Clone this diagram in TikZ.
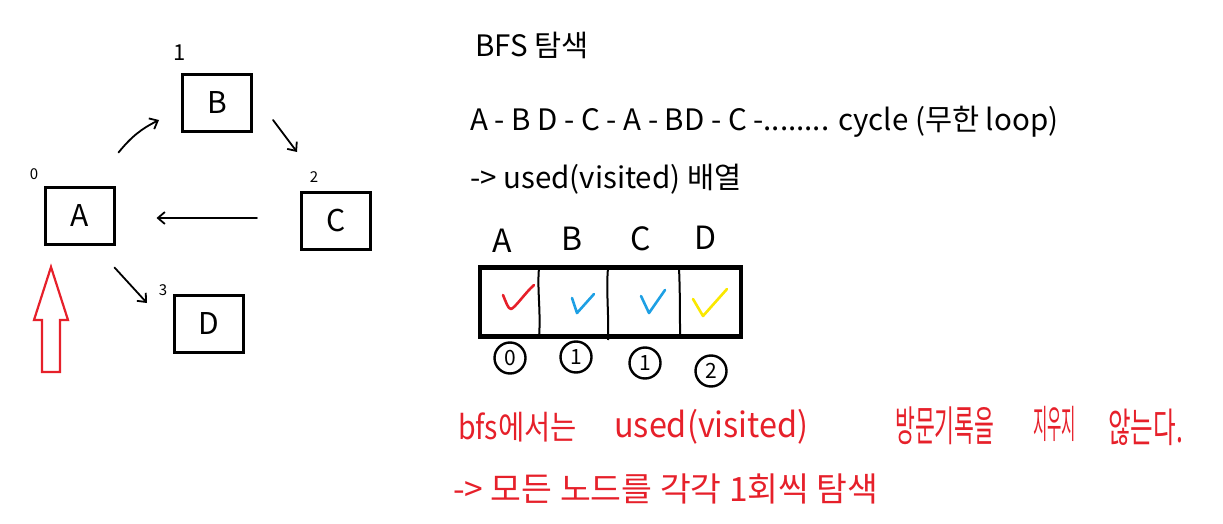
\documentclass[tikz,border=0pt]{standalone}
\usepackage{fontspec}
\setmainfont{Noto Sans CJK KR}
\usetikzlibrary{arrows.meta}
\definecolor{pred}{RGB}{230,32,42}
\definecolor{pblue}{RGB}{30,160,228}
\definecolor{pyellow}{RGB}{250,232,0}
\newcommand{\fs}[1]{\fontsize{#1}{#1}\selectfont}
\tikzset{
  gbox/.style={draw, line width=3, minimum width=69, minimum height=57, inner sep=0, outer sep=0, font=\fs{30}},
  idx/.style={inner sep=0, font=\fs{15}},
  harrow/.style={line width=1.8, -{Straight Barb[length=7pt, width=12pt]}, line cap=round},
  txt/.style={anchor=west, inner sep=0, font=\fs{29.5}},
  rtxt/.style={anchor=west, inner sep=0, text=pred, font=\fs{30}},
  colhead/.style={inner sep=0, font=\fs{32}},
  cnum/.style={draw, circle, line width=2.4, minimum size=31, inner sep=0, font=\fs{21}},
  check/.style={line width=2.6, line cap=round, line join=round}
}
\begin{document}
\begin{tikzpicture}[x=1pt, y=-1pt]
\useasboundingbox (0,0) rectangle (1223,524);
% graph nodes
\node[gbox] (A) at (79.5,215.5) {A};
\node[gbox] (B) at (217,103) {B};
\node[gbox] (C) at (336,220.5) {C};
\node[gbox] (D) at (208.5,324) {D};
% index labels
\node[idx] (l0) at (34,174) {0};
\node[idx, font=\fs{22}] (l1) at (180,53) {1};
\node[idx] (l2) at (314,177) {2};
\node[idx] (l3) at (163,290) {3};
% connectors
\draw[harrow] ([shift={(4.5,-34.5)}]A.north east) to[bend left=12] ([shift={(-23.5,-11.5)}]B.south west);
\draw[harrow] ([shift={(21.5,-11.5)}]B.south east) -- ([shift={(-4.5,-40)}]C.north west);
\draw[harrow] ([shift={(-44.5,-2.5)}]C.west) -- ([shift={(42.5,2.5)}]A.east);
\draw[harrow] ([shift={(0.5,23.5)}]A.south east) -- ([shift={(-27,7.5)}]D.north west);
% red hollow arrow
\draw[pred, line width=2.2, line join=miter] (51,267) -- (68,320) -- (60,320) -- (60,372) -- (42,372) -- (42,320) -- (34,320) -- cycle;
% text
\node[txt] (t1) at (475,45) {BFS 탐색};
\node[txt] (t2) at (470,122) {A - B D - C - A - BD - C -........ cycle (무한 loop)};
\node[txt] (t3) at (470,179) {-> used(visited) 배열};
% array
\node[draw, line width=4.5, minimum width=261, minimum height=69, inner sep=0] (arr) at (610.5,302) {};
\draw[line width=2] (539,268) .. controls (537,290) and (541,310) .. (539,338);
\draw[line width=2] (608,268) .. controls (606,290) and (609,315) .. (608,340);
\draw[line width=2] (679,268) .. controls (680,290) and (680,315) .. (680,338);
\node[colhead] (hA) at (502,241) {A};
\node[colhead] (hB) at (572,239) {B};
\node[colhead] (hC) at (641,239) {C};
\node[colhead] (hD) at (705,238) {D};
\draw[check, pred] (503,295) .. controls (506,302) and (508,309) .. (511,309) .. controls (515,308) and (525,293) .. (534,285);
\draw[check, pblue] (572,298) -- (577,313) -- (594,294);
\draw[check, pblue] (641,296) -- (649,313) -- (665,290);
\draw[check, pyellow] (693,299) -- (703,316) -- (727,289);
\node[cnum] (n0) at (510,358) {0};
\node[cnum] (n1) at (576,357) {1};
\node[cnum] (n2) at (645,363) {1};
\node[cnum] (n3) at (711,371) {2};
% red notes
\node[rtxt] (r1) at (458,427) {\scalebox{0.95}[1.1]{bfs에서는}};
\node[rtxt] (r2) at (614,427) {\scalebox{1.08}[1.15]{used(visited)}};
\node[rtxt] (r3) at (895,426) {\scalebox{0.72}[1.4]{방문기록을}};
\node[rtxt] (r4) at (1033,424) {\scalebox{0.52}[1.3]{지우지}};
\node[rtxt] (r5) at (1108,427) {\scalebox{0.82}[1.35]{않는다.}};
\node[rtxt, font=\fs{33.5}] (r6) at (453,489) {-> 모든 노드를 각각 1회씩 탐색};
\end{tikzpicture}
\end{document}
